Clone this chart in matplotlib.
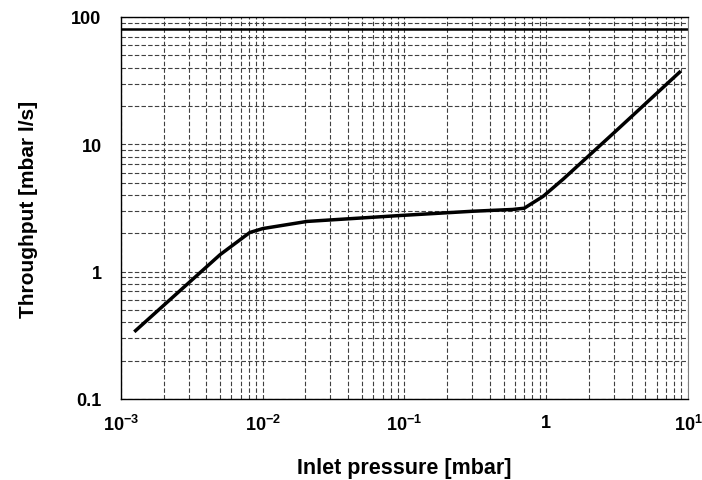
import numpy as np
import matplotlib.pyplot as plt
from matplotlib.ticker import FixedLocator, LogLocator, NullFormatter

plt.rcParams['font.family'] = ['Liberation Sans', 'DejaVu Sans']
plt.rcParams['mathtext.fontset'] = 'custom'
plt.rcParams['mathtext.rm'] = 'Liberation Sans:bold'
plt.rcParams['mathtext.bf'] = 'Liberation Sans:bold'

# curve
pressure = [1.24e-3, 2e-3, 5e-3, 8.1e-3, 1e-2, 2.05e-2, 9.3e-2, 0.3, 0.58, 0.7, 0.81, 0.95, 1.31, 3.0, 8.9]
throughput = [0.337, 0.544, 1.36, 2.03, 2.18, 2.48, 2.76, 2.98, 3.08, 3.15, 3.49, 3.9, 5.3, 12.3, 37.6]
limit_line = 80

x_ticks = [1e-3, 1e-2, 1e-1, 1, 10]
x_labels = [r'$\mathbf{10^{-3}}$', r'$\mathbf{10^{-2}}$', r'$\mathbf{10^{-1}}$', r'$\mathbf{1}$', r'$\mathbf{10^{1}}$']
y_ticks = [0.1, 1, 10, 100]
y_labels = ['0.1', '1', '10', '100']


def main():
    fig = plt.figure(figsize=(7.02, 4.81), dpi=100)
    ax = fig.add_axes([0.1724, 0.1684, 0.8076, 0.7942])
    ax.set_xscale('log')
    ax.set_yscale('log')
    ax.set_xlim(1e-3, 10)
    ax.set_ylim(0.1, 100)

    ax.xaxis.set_major_locator(FixedLocator(x_ticks))
    ax.xaxis.set_minor_locator(LogLocator(base=10, subs=np.arange(2, 10)))
    ax.yaxis.set_major_locator(FixedLocator(y_ticks))
    ax.yaxis.set_minor_locator(LogLocator(base=10, subs=np.arange(2, 10)))
    ax.xaxis.set_minor_formatter(NullFormatter())
    ax.yaxis.set_minor_formatter(NullFormatter())
    ax.set_xticklabels(x_labels, fontsize=13, fontweight='bold')
    ax.set_yticklabels(y_labels, fontsize=13, fontweight='bold')
    ax.tick_params(which='both', length=0)
    ax.tick_params(axis='y', pad=14)
    ax.tick_params(axis='x', pad=11)

    ax.grid(which='both', color='0.25', linestyle=(0, (4, 2)), linewidth=0.8)
    ax.set_axisbelow(True)

    ax.axhline(limit_line, color='black', linewidth=1.8)
    ax.plot(pressure, throughput, color='black', linewidth=2.5, solid_capstyle='butt')

    for side in ['left', 'bottom', 'top']:
        ax.spines[side].set_color('black')
        ax.spines[side].set_linewidth(1.0)
    ax.spines['right'].set_color('0.5')

    ax.set_xlabel('Inlet pressure [mbar]', fontsize=15.5, fontweight='bold', labelpad=16)
    ax.set_ylabel('Throughput [mbar l/s]', fontsize=15, fontweight='bold', labelpad=24)

    fig.savefig('out.png', dpi=100)


if __name__ == "__main__":
    main()
